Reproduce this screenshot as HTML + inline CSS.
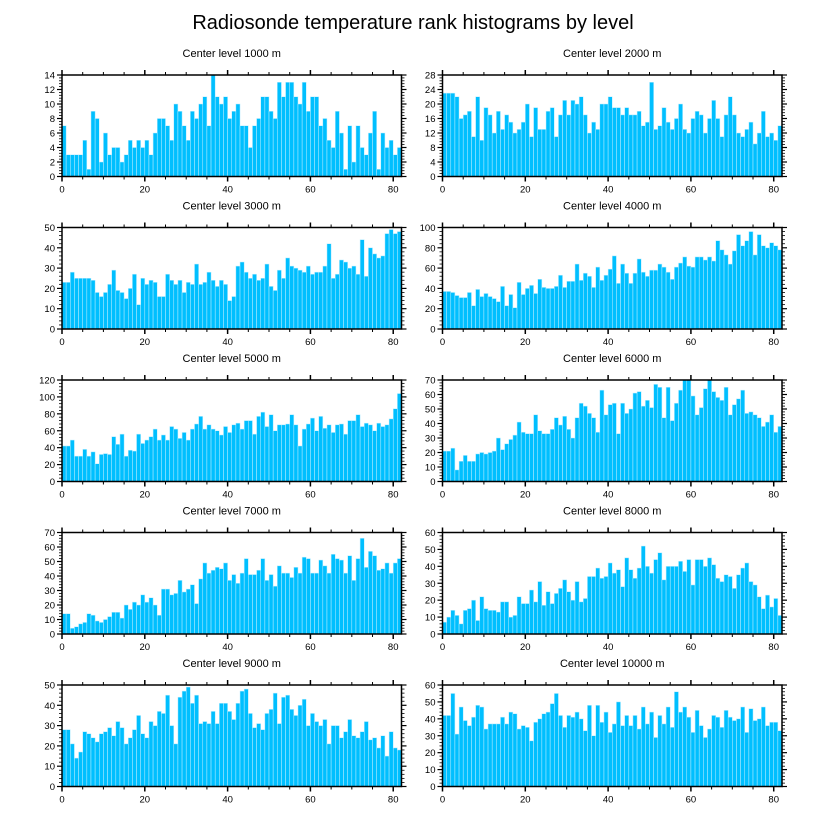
<!DOCTYPE html>
<html><head><meta charset="utf-8"><style>
html,body{margin:0;padding:0;background:#fff;}
svg{display:block;font-family:"Liberation Sans",sans-serif;}
</style></head><body>
<svg id="chart" width="822" height="824" viewBox="0 0 822 824" xmlns="http://www.w3.org/2000/svg">
<text x="413" y="29" text-anchor="middle" font-size="20">Radiosonde temperature rank histograms by level</text>
</svg>
<script>
const levels = ["1000","2000","3000","4000","5000","6000","7000","8000","9000","10000"];
const yMaxes = [14,28,50,100,120,70,70,60,50,60];
const ySteps = [2,4,10,20,20,10,10,10,10,10];
const xTickLabels = ["0","20","40","60","80"];
const xTickValues = [0,20,40,60,80];
const s1000 = [7,3,3,3,3,5,1,9,8,2,6,3,4,4,2,3,5,4,5,4,5,3,6,8,8,7,5,10,9,7,5,9,8,10,11,7,14,11,10,11,8,9,10,7,7,4,7,8,11,11,9,8,13,11,13,13,11,10,13,9,11,11,7,8,5,4,9,6,1,7,2,7,4,3,6,9,1,6,4,5,3,4];
const s2000 = [23,23,23,22,16,17,18,11,22,10,19,17,12,18,13,17,15,12,13,15,20,11,19,13,13,18,19,11,17,21,17,21,20,22,17,12,15,13,20,20,22,19,19,17,19,17,17,18,14,15,26,13,14,19,15,13,16,20,13,12,16,18,17,12,16,21,16,11,17,22,17,12,11,13,15,9,12,18,11,12,10,14];
const s3000 = [23,23,28,25,25,25,25,24,18,16,18,22,29,19,18,15,20,27,12,25,22,24,23,16,16,27,24,22,24,18,23,22,32,22,23,28,24,21,24,22,14,16,31,33,28,25,27,24,25,32,21,19,29,25,35,31,30,29,28,31,27,28,28,31,42,25,27,34,33,30,31,27,44,26,40,37,35,36,47,49,47,48];
const s4000 = [37,37,36,33,31,31,36,23,39,32,35,32,30,27,42,23,34,21,46,34,40,43,35,49,41,40,40,42,53,41,47,47,64,48,55,52,41,61,48,53,59,72,45,64,55,45,55,69,56,52,58,58,64,61,56,49,61,65,71,62,61,71,71,68,71,67,87,78,73,64,77,93,82,87,96,73,93,82,80,85,82,78];
const s5000 = [42,42,49,30,30,38,30,35,21,32,33,32,53,44,56,30,37,36,56,45,49,53,62,49,55,49,65,62,51,58,49,62,68,77,62,67,62,60,55,65,58,67,69,62,72,72,56,77,82,65,79,60,67,67,68,79,67,42,62,68,75,60,77,63,67,58,67,68,56,72,72,79,65,69,67,60,69,65,67,74,86,104];
const s6000 = [21,21,23,8,14,18,14,14,19,20,19,20,21,30,22,26,29,32,41,34,33,33,46,35,33,33,36,44,39,45,36,30,44,54,52,47,44,34,63,46,53,54,33,54,47,50,61,62,52,56,51,67,65,44,65,42,54,63,70,70,59,46,51,64,70,62,58,56,65,46,53,57,63,47,48,46,44,38,41,46,34,38];
const s7000 = [14,14,4,5,7,8,14,13,9,8,10,12,15,15,11,20,17,22,20,27,22,25,20,13,31,31,27,28,37,29,31,34,21,38,49,42,44,46,45,49,37,41,35,42,52,41,41,44,52,37,41,33,47,42,42,39,46,42,53,52,42,42,51,47,42,55,52,51,42,54,37,52,66,46,57,54,44,45,49,42,49,52];
const s8000 = [7,10,14,11,6,14,15,20,8,22,15,14,14,13,19,19,10,11,22,18,18,26,19,31,17,25,18,24,27,32,25,20,31,19,21,34,34,39,33,34,42,36,38,28,45,38,33,39,52,40,36,44,48,32,40,40,40,43,37,44,29,44,44,40,45,41,33,31,35,34,27,35,39,42,31,29,22,15,23,16,21,11];
const s9000 = [28,28,21,14,17,27,26,24,22,26,27,29,25,32,29,21,24,28,35,26,24,32,30,37,36,45,30,21,44,47,49,41,45,31,32,31,37,31,41,41,37,33,41,47,48,36,29,31,28,36,38,46,31,44,45,38,35,40,43,30,36,32,30,33,21,30,30,24,27,33,25,24,27,32,23,24,19,25,15,27,19,18];
const s10000 = [42,42,55,31,47,39,36,41,48,47,34,37,37,37,41,37,44,43,34,36,35,27,38,40,43,44,49,55,42,35,42,41,44,40,33,48,30,48,38,44,32,37,50,36,42,36,42,34,47,37,44,29,42,37,47,35,56,44,47,41,32,45,36,29,34,42,41,35,45,41,39,40,47,32,46,39,40,47,36,38,38,33];
const series = [s1000,s2000,s3000,s4000,s5000,s6000,s7000,s8000,s9000,s10000];

const NS = "http://www.w3.org/2000/svg";
const svg = document.getElementById("chart");
const X_MAX = 82;
function mk(tag, attrs, parent){const e=document.createElementNS(NS,tag);for(const k in attrs)e.setAttribute(k,attrs[k]);parent.appendChild(e);return e;}

for(let p=0;p<10;p++){
  const col=p%2,row=Math.floor(p/2);
  const L = col===0?62:442.5, W=339.5, T=75+row*152.5, H=101.5;
  const ymax=yMaxes[p], ystep=ySteps[p], data=series[p];
  const xs=v=>L+v/X_MAX*W;
  const ys=v=>T+H-v/ymax*H;
  const g=mk("g",{},svg);
  
  
  const t=mk("text",{x:L+W/2,y:T-18,"text-anchor":"middle","font-size":"11"},g);
  t.textContent="Center level "+levels[p]+" m";
  
  
  const bars=mk("g",{},g);
  
  
  for(let i=0;i<data.length;i++){
    const x0=xs(i),x1=xs(i+1),y0=ys(data[i]);
    const r=mk("rect",{x:x0,y:y0,width:x1-x0,height:T+H-y0,fill:"#00bfff",stroke:"#bfeeff","stroke-width":"0.5"},bars);
    
    
  }
  // frame
  const fr=mk("rect",{x:L,y:T,width:W,height:H,fill:"none",stroke:"#000","stroke-width":"1.5"},g);
  
  
  // x ticks top & bottom
  for(let v=0;v<=X_MAX;v+=5){
    const major=v%20===0, len=major?5:3, x=xs(v);
    mk("line",{x1:x,x2:x,y1:T+H,y2:T+H+len,stroke:"#000","stroke-width":major?1.5:1},g);
    mk("line",{x1:x,x2:x,y1:T,y2:T-len,stroke:"#000","stroke-width":major?1.5:1},g);
  }
  // y ticks left & right
  const minor=ystep/5;
  for(let k=0;k*minor<=ymax+1e-9;k++){
    const v=k*minor, major=k%5===0, len=major?5:3, y=ys(v);
    mk("line",{x1:L,x2:L-len,y1:y,y2:y,stroke:"#000","stroke-width":major?1.2:0.8},g);
    mk("line",{x1:L+W,x2:L+W+len,y1:y,y2:y,stroke:"#000","stroke-width":major?1.2:0.8},g);
  }
  for(let v=0;v<=ymax+1e-9;v+=ystep){
    const lb=mk("text",{x:L-7,y:ys(v)+3.5,"text-anchor":"end","font-size":"9.5"},g);
    lb.textContent=String(v);
    
    
  }
  for(let j=0;j<xTickValues.length;j++){
    const lb=mk("text",{x:xs(xTickValues[j]),y:T+H+16,"text-anchor":"middle","font-size":"9.5"},g);
    lb.textContent=xTickLabels[j];
    
    
  }
}
</script>
</body></html>
